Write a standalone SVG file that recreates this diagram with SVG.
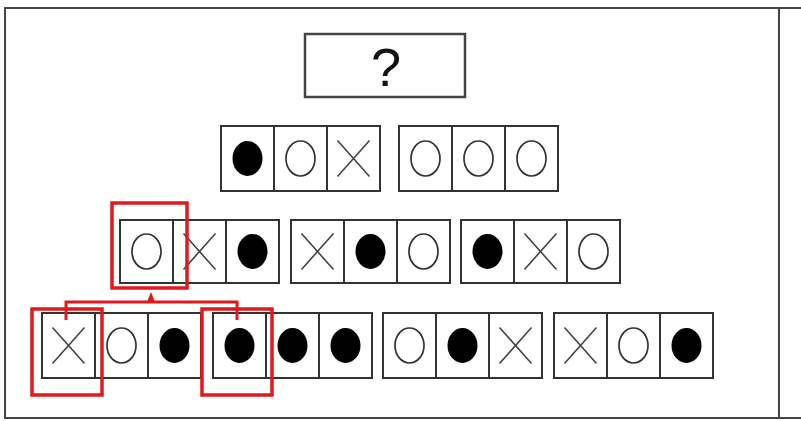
<svg xmlns="http://www.w3.org/2000/svg" xmlns:xlink="http://www.w3.org/1999/xlink" width="801" height="421" viewBox="0 0 801 421">
<style>
.frame{fill:none;stroke:#444;stroke-width:2}
.cell{fill:#fff;stroke:#333;stroke-width:2}
.qbox{fill:#fff;stroke:#444;stroke-width:2.5}
.q{font-family:"Liberation Sans",Arial,sans-serif;font-size:54px;fill:#111}
.hl{fill:none;stroke:#e0191e;stroke-width:3.5}
.conn{fill:none;stroke:#e0191e;stroke-width:3}
</style>
<defs>
<g id="dot"><ellipse cx="0" cy="0" rx="15" ry="17.5" fill="#000"/></g>
<g id="ring"><ellipse cx="0" cy="0" rx="14.5" ry="17.5" fill="none" stroke="#333" stroke-width="1.7"/></g>
<g id="cross"><path d="M-16,-18 L16,18 M16,-18 L-16,18" fill="none" stroke="#444" stroke-width="1.6"/></g>
</defs>
<rect width="801" height="421" fill="#fff"/>
<g id="frame">
<path class="frame" d="M803,8 H5 V418 H803"/>
<line class="frame" x1="779" y1="8" x2="779" y2="418"/>
</g>
<g id="question">
<rect class="qbox" x="305" y="34" width="160" height="63"/>
<text class="q" x="386" y="86" text-anchor="middle">?</text>
</g>
<g id="r1g1">
<rect class="cell" x="221" y="126" width="53" height="65"/>
<rect class="cell" x="274" y="126" width="53" height="65"/>
<rect class="cell" x="327" y="126" width="53" height="65"/>
<use xlink:href="#dot" x="247.5" y="158.5"/>
<use xlink:href="#ring" x="300.5" y="158.5"/>
<use xlink:href="#cross" x="353.5" y="158.5"/>
</g>
<g id="r1g2">
<rect class="cell" x="399" y="126" width="53" height="65"/>
<rect class="cell" x="452" y="126" width="53" height="65"/>
<rect class="cell" x="505" y="126" width="53" height="65"/>
<use xlink:href="#ring" x="425.5" y="158.5"/>
<use xlink:href="#ring" x="478.5" y="158.5"/>
<use xlink:href="#ring" x="531.5" y="158.5"/>
</g>
<g id="r2g1">
<rect class="cell" x="120" y="220" width="53" height="63"/>
<rect class="cell" x="173" y="220" width="53" height="63"/>
<rect class="cell" x="226" y="220" width="53" height="63"/>
<use xlink:href="#ring" x="146.5" y="251.5"/>
<use xlink:href="#cross" x="199.5" y="251.5"/>
<use xlink:href="#dot" x="252.5" y="251.5"/>
</g>
<g id="r2g2">
<rect class="cell" x="291" y="220" width="53" height="63"/>
<rect class="cell" x="344" y="220" width="53" height="63"/>
<rect class="cell" x="397" y="220" width="53" height="63"/>
<use xlink:href="#cross" x="317.5" y="251.5"/>
<use xlink:href="#dot" x="370.5" y="251.5"/>
<use xlink:href="#ring" x="423.5" y="251.5"/>
</g>
<g id="r2g3">
<rect class="cell" x="461" y="220" width="53" height="63"/>
<rect class="cell" x="514" y="220" width="53" height="63"/>
<rect class="cell" x="567" y="220" width="53" height="63"/>
<use xlink:href="#dot" x="487.5" y="251.5"/>
<use xlink:href="#cross" x="540.5" y="251.5"/>
<use xlink:href="#ring" x="593.5" y="251.5"/>
</g>
<g id="r3g1">
<rect class="cell" x="42" y="313" width="53" height="65"/>
<rect class="cell" x="95" y="313" width="53" height="65"/>
<rect class="cell" x="148" y="313" width="53" height="65"/>
<use xlink:href="#cross" x="68.5" y="345.5"/>
<use xlink:href="#ring" x="121.5" y="345.5"/>
<use xlink:href="#dot" x="174.5" y="345.5"/>
</g>
<g id="r3g2">
<rect class="cell" x="213" y="313" width="53" height="65"/>
<rect class="cell" x="266" y="313" width="53" height="65"/>
<rect class="cell" x="319" y="313" width="53" height="65"/>
<use xlink:href="#dot" x="239.5" y="345.5"/>
<use xlink:href="#dot" x="292.5" y="345.5"/>
<use xlink:href="#dot" x="345.5" y="345.5"/>
</g>
<g id="r3g3">
<rect class="cell" x="383" y="313" width="53" height="65"/>
<rect class="cell" x="436" y="313" width="53" height="65"/>
<rect class="cell" x="489" y="313" width="53" height="65"/>
<use xlink:href="#ring" x="409.5" y="345.5"/>
<use xlink:href="#dot" x="462.5" y="345.5"/>
<use xlink:href="#cross" x="515.5" y="345.5"/>
</g>
<g id="r3g4">
<rect class="cell" x="554" y="313" width="53" height="65"/>
<rect class="cell" x="607" y="313" width="53" height="65"/>
<rect class="cell" x="660" y="313" width="53" height="65"/>
<use xlink:href="#cross" x="580.5" y="345.5"/>
<use xlink:href="#ring" x="633.5" y="345.5"/>
<use xlink:href="#dot" x="686.5" y="345.5"/>
</g>
<g id="highlights">
<rect class="hl" x="112" y="203" width="75" height="85"/>
<rect class="hl" x="32" y="309" width="70" height="86"/>
<rect class="hl" x="202" y="309" width="70" height="86"/>
</g>
<g id="connectors">
<path class="conn" d="M66,320 V302 H237 V320"/>
<polygon points="151,292 147,302 155,302" fill="#e0191e"/>
</g>
</svg>
